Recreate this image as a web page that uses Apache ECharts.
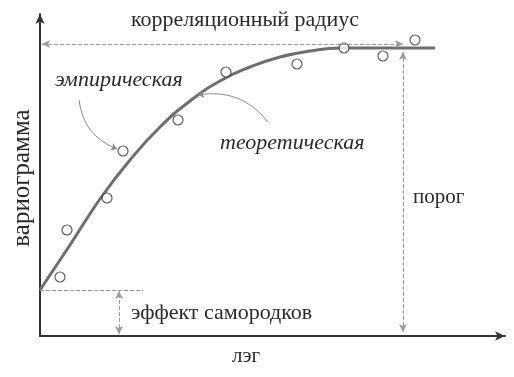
<!DOCTYPE html>
<html>
<head>
<meta charset="utf-8">
<script src="https://cdn.jsdelivr.net/npm/echarts@6/dist/echarts.min.js"></script>
<style>
html,body{margin:0;padding:0;background:#fff;}
#chart{width:514px;height:377px;}
</style>
</head>
<body>
<div id="chart"></div>
<script>
// Empirical variogram points [lag, gamma]
const empiricalLag   = [2.0, 2.7, 6.7, 8.3, 13.8, 18.6, 25.7, 30.4, 34.3, 37.5];
const empiricalGamma = [5.9, 10.6, 13.8, 18.5, 21.6, 26.4, 27.2, 28.8, 28.0, 29.6];
// Theoretical model curve
const theoryLag   = [0, 3, 6, 9, 12, 15, 18, 21, 24, 27, 30, 33, 36, 39.5];
const theoryGamma = [4.6, 9.1, 13.7, 17.6, 20.9, 23.5, 25.5, 26.9, 27.9, 28.5, 28.8, 28.8, 28.8, 28.8];
// Annotation values
const nugget = 4.6;
const sillLevel = 29.2;
const rangeLag = 36.3;
const nuggetMarkLag = 7.9;
const nuggetLineEnd = 10.3;
// Labels
const labels = {
  range: 'корреляционный радиус',
  empirical: 'эмпирическая',
  theoretical: 'теоретическая',
  sill: 'порог',
  nugget: 'эффект самородков',
  xName: 'лэг',
  yName: 'вариограмма'
};
// Annotation pointer arrows [from, to]
const empiricalPointer = [[3.9, 23.6], [7.7, 18.7]];
const theoreticalPointer = [[22.8, 21.4], [15.8, 24.1]];

const chart = echarts.init(document.getElementById('chart'), null, {renderer: 'canvas'});
const serif = '"Liberation Serif", "DejaVu Serif", serif';
const textColor = '#2a2a2a';
const dash = {type: 'dashed', color: '#9a9a9a', width: 1};

const option = {
  animation: false,
  grid: {left: 40, top: 14, width: 465, height: 322},
  xAxis: {
    type: 'value', min: 0, max: 46.5,
    axisLine: {show: true, symbol: ['none', 'arrow'], symbolSize: [7, 10], lineStyle: {color: '#333', width: 2}},
    axisTick: {show: false}, axisLabel: {show: false}, splitLine: {show: false}
  },
  yAxis: {
    type: 'value', min: 0, max: 32.2,
    axisLine: {show: true, symbol: ['none', 'arrow'], symbolSize: [7, 10], lineStyle: {color: '#333', width: 2}},
    axisTick: {show: false}, axisLabel: {show: false}, splitLine: {show: false}
  },
  series: [
    {
      type: 'line',
      data: theoryLag.map((x, i) => [x, theoryGamma[i]]),
      smooth: 0.5,
      showSymbol: false,
      lineStyle: {color: '#6e6e6e', width: 3},
      z: 2,
      markLine: {
        silent: true,
        label: {show: false},
        symbol: ['arrow', 'arrow'],
        symbolSize: [6, 8],
        lineStyle: dash,
        data: [
          [{coord: [0.2, sillLevel]}, {coord: [rangeLag, sillLevel]}],
          [{coord: [rangeLag, 0.4]}, {coord: [rangeLag, 28.4]}],
          [{coord: [nuggetMarkLag, 0.2]}, {coord: [nuggetMarkLag, nugget - 0.1]}],
          [{coord: [0, nugget], symbol: 'none'}, {coord: [nuggetLineEnd, nugget], symbol: 'none'}]
        ]
      }
    },
    {
      type: 'scatter',
      data: empiricalLag.map((x, i) => [x, empiricalGamma[i]]),
      symbol: 'circle',
      symbolSize: 10,
      itemStyle: {color: '#fff', borderColor: '#333', borderWidth: 1.2},
      z: 3
    },
    {
      type: 'lines',
      coordinateSystem: 'cartesian2d',
      symbol: ['none', 'arrow'],
      symbolSize: 6,
      lineStyle: {color: '#8a8a8a', width: 1, curveness: -0.3, opacity: 1},
      data: [
        {coords: empiricalPointer},
        {coords: theoreticalPointer}
      ],
      z: 4
    }
  ],
  graphic: [
    {type: 'text', x: 131, y: 9, style: {text: labels.range, font: '22px ' + serif, fill: textColor}},
    {type: 'text', x: 55, y: 69, style: {text: labels.empirical, font: 'italic 22px ' + serif, fill: textColor}},
    {type: 'text', x: 220, y: 132, style: {text: labels.theoretical, font: 'italic 22px ' + serif, fill: textColor}},
    {type: 'text', x: 413, y: 187, style: {text: labels.sill, font: '21px ' + serif, fill: textColor}},
    {type: 'text', x: 131, y: 302, style: {text: labels.nugget, font: '22px ' + serif, fill: textColor}},
    {type: 'text', x: 232, y: 346, style: {text: labels.xName, font: '21px ' + serif, fill: textColor}},
    {type: 'text', x: 10, y: 178, rotation: Math.PI / 2, style: {text: labels.yName, font: '25px ' + serif, fill: textColor, align: 'center', verticalAlign: 'top'}}
  ]
};
chart.setOption(option);
</script>
</body>
</html>
